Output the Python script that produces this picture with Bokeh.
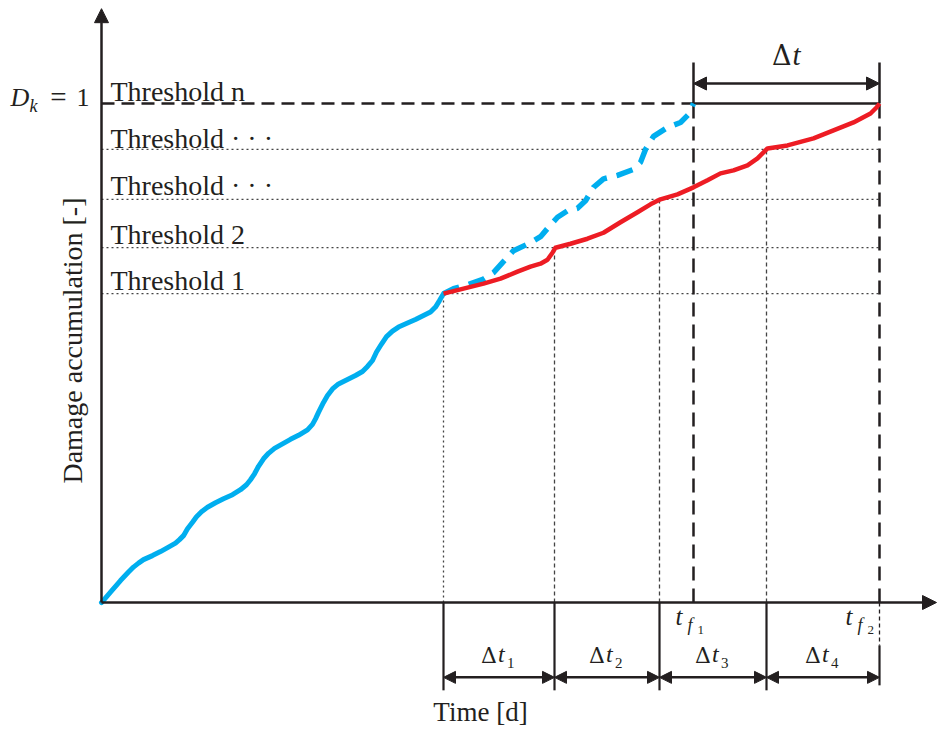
import math
from bokeh.plotting import figure
from bokeh.models import Range1d, Arrow, NormalHead, Label
from bokeh.embed import file_html
from bokeh.resources import INLINE

# ---------------- data (time in days, damage D in [-]) ----------------
blue_t = [0, 9, 19, 27, 32, 37, 42, 51, 59, 67, 74, 78, 82, 86, 91, 95, 100, 106, 114, 122, 131,
          139, 145, 149, 153, 157, 162, 167, 173, 181, 189, 197, 206, 211, 214, 217, 222, 226, 231,
          237, 246, 254, 261, 266, 271, 275, 280, 285, 291, 297, 306, 314, 322, 329, 334, 338, 342]
blue_D = [0, 0.021, 0.044, 0.061, 0.071, 0.079, 0.086, 0.094, 0.102, 0.111, 0.119, 0.126, 0.134,
          0.148, 0.161, 0.172, 0.182, 0.191, 0.200, 0.208, 0.216, 0.226, 0.236, 0.246, 0.258, 0.273,
          0.288, 0.299, 0.309, 0.318, 0.327, 0.335, 0.346, 0.357, 0.368, 0.381, 0.401, 0.415, 0.428,
          0.438, 0.447, 0.455, 0.463, 0.473, 0.485, 0.502, 0.518, 0.533, 0.544, 0.552, 0.560, 0.567,
          0.575, 0.582, 0.592, 0.605, 0.619]

blue_cont_t = [342, 352, 366, 382, 392, 401, 412, 429, 439, 447, 456, 466, 476, 484, 492, 502, 516,
               532, 539, 544, 552, 566, 579, 587, 592]
blue_cont_D = [0.619, 0.629, 0.637, 0.648, 0.661, 0.681, 0.705, 0.721, 0.733, 0.752, 0.772, 0.785,
               0.790, 0.805, 0.832, 0.849, 0.856, 0.868, 0.882, 0.908, 0.934, 0.952, 0.962, 0.978, 1.0]

red_t = [342, 362, 382, 399, 416, 429, 439, 446, 451, 454, 469, 486, 502, 519, 536, 549, 559, 576,
         592, 606, 619, 632, 646, 656, 666, 686, 712, 732, 752, 769, 775, 778]
red_D = [0.619, 0.629, 0.639, 0.649, 0.663, 0.673, 0.679, 0.687, 0.701, 0.711, 0.719, 0.729, 0.741,
         0.762, 0.782, 0.798, 0.808, 0.818, 0.832, 0.846, 0.860, 0.866, 0.876, 0.890, 0.910, 0.916,
         0.930, 0.946, 0.962, 0.980, 0.992, 1.0]

threshold_levels = [0.619, 0.711, 0.808, 0.908, 1.0]
threshold_labels = ["Threshold 1", "Threshold 2", "Threshold \u00b7 \u00b7 \u00b7",
                    "Threshold \u00b7 \u00b7 \u00b7", "Threshold n"]
threshold_times = [342, 453, 558, 665]
t_f1 = 592
t_f2 = 778
interval_subs = ["1", "2", "3", "4"]

# ---------------- figure ----------------
INK = "#231F20"
BLUE = "#00AEEF"
RED = "#ED1C24"
FONT = "Liberation Serif"
GREEK = "DejaVu Serif"

p = figure(width=938, height=733, x_range=Range1d(-101, 837), y_range=Range1d(-0.2625, 1.2064),
           output_backend="svg", toolbar_location=None, min_border=0,
           x_axis_location=None, y_axis_location=None)
p.grid.visible = False
p.outline_line_color = None
p.background_fill_color = "white"

ARROW_Y = -0.150      # bottom dimension arrows
TOP_ARROW_Y = 1.040   # top dimension arrow
BOT_END = -0.176
TOP_END = 1.082

# thin threshold lines
n_thr = len(threshold_times)
p.segment(x0=[0] * n_thr, y0=threshold_levels[:n_thr], x1=[t_f2] * n_thr, y1=threshold_levels[:n_thr],
          line_color="#444444", line_width=1.3, line_dash="2 3")
# thin vertical lines to thresholds
p.segment(x0=[threshold_times[0]], y0=[0], x1=[threshold_times[0]], y1=[threshold_levels[0]],
          line_color="#444444", line_width=1.3, line_dash="2 3")
p.segment(x0=threshold_times[1:], y0=[0] * 3, x1=threshold_times[1:], y1=threshold_levels[1:4],
          line_color="#444444", line_width=1.3, line_dash="4 3")

# failure threshold line
p.line([0, t_f1], [1.0, 1.0], line_color=INK, line_width=2.5, line_dash="13 7")
p.line([t_f1, t_f2], [1.0, 1.0], line_color=INK, line_width=2.5)
# failure time verticals
p.segment(x0=[t_f1, t_f2], y0=[0, 0], x1=[t_f1, t_f2], y1=[1.0, 1.0],
          line_color=INK, line_width=2.5, line_dash="14 8")
p.segment(x0=[t_f1, t_f2], y0=[1.0, 1.0], x1=[t_f1, t_f2], y1=[TOP_END, TOP_END],
          line_color=INK, line_width=2.5)

# bottom boundaries
p.segment(x0=threshold_times, y0=[0] * n_thr, x1=threshold_times, y1=[BOT_END] * n_thr,
          line_color=INK, line_width=2.2)
p.segment(x0=[t_f2], y0=[0], x1=[t_f2], y1=[-0.086], line_color=INK, line_width=1.3, line_dash="4 3")
p.segment(x0=[t_f2], y0=[-0.086], x1=[t_f2], y1=[-0.166], line_color=INK, line_width=2.2)

# curves
p.line(blue_t, blue_D, line_color=BLUE, line_width=5, line_join="round", line_cap="round")
p.line(blue_cont_t, blue_cont_D, line_color=BLUE, line_width=5.5, line_join="round", line_dash="17 10")
p.line(red_t, red_D, line_color=RED, line_width=4.5, line_join="round")

# axes with arrows
def arrow(x0, y0, x1, y1, start=False, end=True, size=13, lw=2.5):
    kw = {}
    kw["end"] = NormalHead(size=size, fill_color=INK, line_color=INK, line_width=1) if end else None
    kw["start"] = NormalHead(size=size, fill_color=INK, line_color=INK, line_width=1) if start else None
    p.add_layout(Arrow(x_start=x0, y_start=y0, x_end=x1, y_end=y1, line_color=INK, line_width=lw, **kw))

arrow(0, 0, 0, 1.19, size=14)
arrow(0, 0, 835, 0, size=14)

# dimension arrows
bounds = threshold_times + [t_f2]
for a, b in zip(bounds[:-1], bounds[1:]):
    arrow(a, ARROW_Y, b, ARROW_Y, start=True, end=True, size=12, lw=2.5)
arrow(t_f1, TOP_ARROW_Y, t_f2, TOP_ARROW_Y, start=True, end=True, size=13, lw=2.5)

# ---------------- text ----------------
SHIFT = 0.37  # baseline correction (em)

def label(x, y, text, size, dx=0, dy=0, style="normal", align="left", angle=0, font=FONT):
    if angle == 0:
        dy = dy + SHIFT * size
    else:
        dx = dx - SHIFT * size
    p.add_layout(Label(x=x, y=y, text=text, x_offset=dx, y_offset=dy, text_font=font,
                       text_font_size=f"{size}px", text_font_style=style, text_align=align,
                       text_baseline="alphabetic", angle=angle, text_color=INK))

for lvl, txt, dy in zip(threshold_levels, threshold_labels, [3, 3, 3, 1, 2]):
    label(0, lvl, txt, 28, dx=9, dy=dy)

label(0, 0.525, "Damage accumulation [-]", 28, dx=-19, align="center", angle=math.pi / 2)
label(379, -0.2385, "Time [d]", 27, align="center")

# D_k = 1
label(0, 1.0, "D", 26, dx=-91, dy=-4, style="italic")
label(0, 1.0, "k", 18, dx=-72, dy=-9, style="italic")
label(0, 1.0, "=", 29, dx=-43, dy=-4, align="center")
label(0, 1.0, "1", 26, dx=-12, dy=-4, align="right")

# top delta t
c_top = (t_f1 + t_f2) / 2
label(c_top, 1.0, "\u0394", 27, dx=5, dy=38, align="right", font=GREEK)
label(c_top, 1.0, "t", 29, dx=6, dy=38, style="italic")

# bottom delta t_i
for (a, b), sub in zip(zip(bounds[:-1], bounds[1:]), interval_subs):
    c = (a + b) / 2
    label(c, ARROW_Y, "\u0394", 22, dx=-2, dy=14, align="right", font=GREEK)
    label(c, ARROW_Y, "t", 24, dx=-1, dy=14, style="italic")
    label(c, ARROW_Y, sub, 15, dx=8, dy=9)

# t_f labels
for tf, sub, dxs in [(t_f1, "1", (-18, -6, 4)), (t_f2, "2", (-34, -22, -12))]:
    label(tf, 0, "t", 25, dx=dxs[0], dy=-23, style="italic")
    label(tf, 0, "f", 18, dx=dxs[1], dy=-29, style="italic")
    label(tf, 0, sub, 13, dx=dxs[2], dy=-32)

open("out.html", "w").write(file_html(p, INLINE))
